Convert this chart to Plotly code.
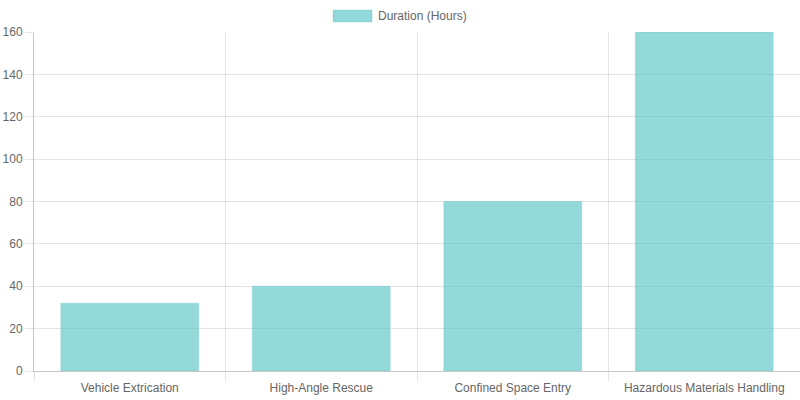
import plotly.graph_objects as go

categories = ["Vehicle Extrication", "High-Angle Rescue", "Confined Space Entry", "Hazardous Materials Handling"]
durations = [32, 40, 80, 160]
series_name = "Duration (Hours)"
y_ticks = [0, 20, 40, 60, 80, 100, 120, 140, 160]

pos = list(range(len(categories)))
bounds = [p - 0.5 for p in pos] + [pos[-1] + 0.5]

FONT = dict(family="Liberation Sans, Arial, Helvetica, sans-serif", size=12, color="#666666")
GRID = "rgba(0,0,0,0.1)"
AXIS = "rgba(0,0,0,0.22)"

fig = go.Figure()
fig.add_trace(go.Bar(
    x=pos, y=durations, name=series_name, width=0.72,
    marker=dict(color="rgba(75,192,192,0.6)", line=dict(color="rgba(75,192,192,0.25)", width=1)),
    showlegend=False, xaxis="x", yaxis="y",
))
fig.add_trace(go.Scatter(x=[bounds[0], bounds[-1]], y=[None, None], xaxis="x2", yaxis="y",
                         showlegend=False, hoverinfo="skip", mode="markers"))

fig.update_layout(
    width=800, height=400,
    margin=dict(l=34, r=0, t=32, b=29, pad=0),
    paper_bgcolor="white", plot_bgcolor="white",
    font=FONT,
    showlegend=False,
    xaxis=dict(range=[bounds[0], bounds[-1]], tickvals=pos, ticktext=categories,
               showgrid=False, zeroline=False, ticks="", showline=False,
               tickfont=FONT, ticklabelstandoff=8),
    xaxis2=dict(range=[bounds[0], bounds[-1]], overlaying="x", anchor="y", side="bottom",
                tickvals=bounds, showticklabels=False, showgrid=True, gridcolor=GRID,
                ticks="outside", ticklen=9, tickcolor=GRID, zeroline=False,
                showline=True, linecolor=AXIS, linewidth=1),
    yaxis=dict(range=[0, 160], tickvals=y_ticks, showgrid=True, gridcolor=GRID,
               ticks="outside", ticklen=8, tickcolor=GRID, zeroline=False,
               showline=True, linecolor=AXIS, linewidth=1, tickfont=FONT),
    shapes=[dict(type="rect", xref="paper", yref="paper",
                 x0=(333 - 34) / 766, x1=(372 - 34) / 766,
                 y0=(371 - 22) / 339, y1=(371 - 10) / 339,
                 fillcolor="rgba(75,192,192,0.6)", line=dict(color="rgba(75,192,192,0.25)", width=1))],
    annotations=[dict(text=series_name, xref="paper", yref="paper",
                      x=(376 - 34) / 766, y=(371 - 16) / 339, xanchor="left", yanchor="middle",
                      showarrow=False, font=FONT)],
)

fig.write_html("out.html")
